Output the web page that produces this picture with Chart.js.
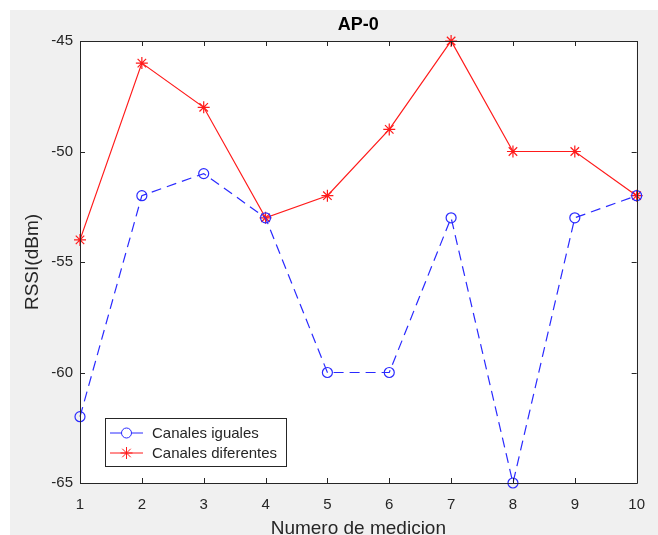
<!DOCTYPE html>
<html>
<head>
<meta charset="utf-8">
<script src="https://cdn.jsdelivr.net/npm/chart.js@4.4.1/dist/chart.umd.min.js"></script>
<style>
  html, body { margin: 0; padding: 0; background: #ffffff; }
  #wrap { width: 658px; height: 535px; }
</style>
</head>
<body>
<div id="wrap"><canvas id="rssiChart" width="658" height="535"></canvas></div>
<script>
// data
const medicion = [1, 2, 3, 4, 5, 6, 7, 8, 9, 10];
const canalesIguales = [-62, -52, -51, -53, -60, -60, -53, -65, -53, -52];
const canalesDiferentes = [-54, -46, -48, -53, -52, -49, -45, -50, -50, -52];
const yTicks = [-65, -60, -55, -50, -45];

const axisColor = '#262626';
const fontFamily = '"Liberation Sans", Arial, Helvetica, sans-serif';

// MATLAB-like frame: grey figure, inward ticks on all 4 sides, title, axis labels, legend
const matlabFrame = {
    id: 'matlabFrame',
    beforeDraw(chart) {
        const ctx = chart.ctx;
        const { left, right, top, bottom } = chart.chartArea;
        ctx.save();
        ctx.fillStyle = '#ffffff';
        ctx.fillRect(0, 0, chart.width, chart.height);
        ctx.fillStyle = '#f0f0f0';
        ctx.fillRect(10, 10, chart.width - 10, chart.height - 10);
        ctx.fillStyle = '#ffffff';
        ctx.fillRect(left, top, right - left, bottom - top);
        ctx.restore();
    },
    afterDraw(chart) {
        const ctx = chart.ctx;
        const { left, right, top, bottom } = chart.chartArea;
        const xs = chart.scales.x, ys = chart.scales.y;
        ctx.save();
        ctx.strokeStyle = axisColor;
        ctx.lineWidth = 1;
        ctx.beginPath();
        ctx.rect(Math.round(left) + 0.5, Math.round(top) + 0.5, Math.round(right - left), Math.round(bottom - top));
        ctx.stroke();
        const tl = 5;
        ctx.beginPath();
        medicion.forEach(v => {
            const px = Math.round(xs.getPixelForValue(v)) + 0.5;
            ctx.moveTo(px, bottom); ctx.lineTo(px, bottom - tl);
            ctx.moveTo(px, top); ctx.lineTo(px, top + tl);
        });
        yTicks.forEach(v => {
            const py = Math.round(ys.getPixelForValue(v)) + 0.5;
            ctx.moveTo(left, py); ctx.lineTo(left + tl, py);
            ctx.moveTo(right, py); ctx.lineTo(right - tl, py);
        });
        ctx.stroke();

        // title
        ctx.fillStyle = '#000000';
        ctx.font = 'bold 18px ' + fontFamily;
        ctx.textAlign = 'center';
        ctx.textBaseline = 'middle';
        ctx.fillText('AP-0', (left + right) / 2, 25);

        // axis titles
        ctx.fillStyle = axisColor;
        ctx.font = '19px ' + fontFamily;
        ctx.fillText('Numero de medicion', (left + right) / 2, 529);
        ctx.save();
        ctx.translate(33, (top + bottom) / 2);
        ctx.rotate(-Math.PI / 2);
        ctx.fillText('RSSI(dBm)', 0, 0);
        ctx.restore();

        // legend box
        const bx = 105, by = 418, bw = 181, bh = 48;
        ctx.fillStyle = '#ffffff';
        ctx.fillRect(bx, by, bw, bh);
        ctx.strokeStyle = axisColor;
        ctx.strokeRect(bx + 0.5, by + 0.5, bw, bh);
        ctx.font = '15px ' + fontFamily;
        ctx.textAlign = 'left';
        chart.data.datasets.forEach((ds, i) => {
            const cy = by + 15 + i * 20;
            ctx.strokeStyle = ds.borderColor;
            ctx.lineWidth = 1;
            ctx.setLineDash([]);
            ctx.beginPath();
            ctx.moveTo(110, cy); ctx.lineTo(143, cy);
            ctx.stroke();
            Chart.helpers.drawPoint(ctx, {
                pointStyle: ds.pointStyle, radius: ds.pointRadius,
                borderWidth: 1, rotation: 0
            }, 126.5, cy);
            ctx.fillStyle = axisColor;
            ctx.fillText(ds.label, 152, cy + 1);
        });
        ctx.restore();
    }
};

new Chart(document.getElementById('rssiChart'), {
    type: 'line',
    data: {
        labels: medicion,
        datasets: [
            {
                label: 'Canales iguales',
                data: canalesIguales,
                borderColor: '#2a2aff',
                backgroundColor: 'rgba(0,0,0,0)',
                borderWidth: 1.2,
                borderDash: [10, 6],
                pointStyle: 'circle',
                pointRadius: 5,
                pointBorderColor: '#2a2aff',
                pointBackgroundColor: 'rgba(0,0,0,0)',
                pointBorderWidth: 1.2,
                tension: 0,
                clip: false
            },
            {
                label: 'Canales diferentes',
                data: canalesDiferentes,
                borderColor: '#ff1a1a',
                backgroundColor: 'rgba(0,0,0,0)',
                borderWidth: 1.2,
                pointStyle: 'star',
                pointRadius: 6,
                pointBorderColor: '#ff1a1a',
                pointBackgroundColor: 'rgba(0,0,0,0)',
                pointBorderWidth: 1.2,
                tension: 0,
                clip: false
            }
        ]
    },
    options: {
        responsive: false,
        animation: false,
        layout: { padding: { left: 0, top: 41, right: 20, bottom: 0 } },
        plugins: {
            legend: { display: false },
            title: { display: false },
            tooltip: { enabled: false }
        },
        scales: {
            x: {
                type: 'linear',
                min: 1,
                max: 10,
                ticks: {
                    stepSize: 1,
                    color: axisColor,
                    padding: 13,
                    maxRotation: 0,
                    font: { family: fontFamily, size: 15 }
                },
                grid: { drawOnChartArea: false, drawTicks: false },
                border: { display: false },
                afterFit(scale) { scale.height = 52; }
            },
            y: {
                min: -65,
                max: -45,
                ticks: {
                    stepSize: 5,
                    color: axisColor,
                    padding: 7,
                    font: { family: fontFamily, size: 15 }
                },
                grid: { drawOnChartArea: false, drawTicks: false },
                border: { display: false },
                afterFit(scale) { scale.width = 80; }
            }
        }
    },
    plugins: [matlabFrame]
});
</script>
</body>
</html>
